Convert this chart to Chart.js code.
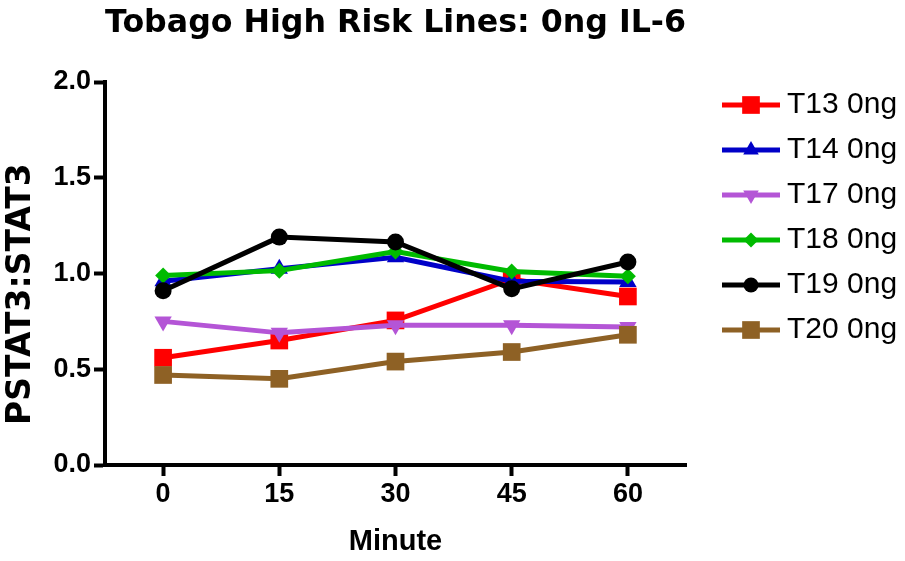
<!DOCTYPE html>
<html><head><meta charset="utf-8">
<script src="https://cdn.jsdelivr.net/npm/chart.js@4.4.0/dist/chart.umd.min.js"></script>
<style>html,body{margin:0;padding:0;background:#fff}#wrap{width:905px;height:561px}</style>
</head><body><div id="wrap"><canvas id="c" width="905" height="561"></canvas></div>
<script>
const chartTitle = 'Tobago High Risk Lines: 0ng IL-6';
const xTitle = 'Minute';
const yTitle = 'PSTAT3:STAT3';
const minutes = [0, 15, 30, 45, 60];
const seriesNames = ['T13 0ng', 'T14 0ng', 'T17 0ng', 'T18 0ng', 'T19 0ng', 'T20 0ng'];
const t13 = [0.56, 0.65, 0.755, 0.97, 0.88];
const t14 = [0.96, 1.025, 1.085, 0.96, 0.955];
const t17 = [0.75, 0.69, 0.73, 0.73, 0.72];
const t18 = [0.99, 1.015, 1.115, 1.01, 0.985];
const t19 = [0.91, 1.19, 1.165, 0.92, 1.06];
const t20 = [0.47, 0.45, 0.54, 0.59, 0.68];
const xTicks = [0, 15, 30, 45, 60];
const yTicks = [0, 0.5, 1.0, 1.5, 2.0];

const seriesValues = [t13, t14, t17, t18, t19, t20];
const styles = [
  {color: '#FF0000', pointStyle: 'rect', radius: 12.5, rotation: 0, lr: 12.5},
  {color: '#0000C8', pointStyle: 'triangle', radius: 10, rotation: 0, lr: 9},
  {color: '#B455D6', pointStyle: 'triangle', radius: 10, rotation: 180, lr: 9},
  {color: '#00BB00', pointStyle: 'rectRot', radius: 8, rotation: 0, lr: 7.5},
  {color: '#000000', pointStyle: 'circle', radius: 8.5, rotation: 0, lr: 7.5},
  {color: '#8E6125', pointStyle: 'rect', radius: 12.5, rotation: 0, lr: 12.5}
];

function marker(g, st, x, y) {
  g.fillStyle = st.color;
  g.beginPath();
  const r = st.lr;
  if (st.pointStyle === 'rect') {
    const s = r * Math.SQRT1_2;
    g.rect(x - s, y - s, 2 * s, 2 * s);
  } else if (st.pointStyle === 'triangle') {
    const base = st.rotation ? Math.PI / 2 : -Math.PI / 2;
    for (let k = 0; k < 3; k++) {
      const a = base + k * 2 * Math.PI / 3;
      const px = x + r * Math.cos(a), py = y + r * Math.sin(a);
      if (k === 0) g.moveTo(px, py); else g.lineTo(px, py);
    }
    g.closePath();
  } else if (st.pointStyle === 'rectRot') {
    g.moveTo(x, y - r); g.lineTo(x + r, y); g.lineTo(x, y + r); g.lineTo(x - r, y); g.closePath();
  } else {
    g.arc(x, y, r, 0, Math.PI * 2);
  }
  g.fill();
}
function legendIcon(st) {
  const cv = document.createElement('canvas');
  cv.width = 87; cv.height = 28;
  const g = cv.getContext('2d');
  g.strokeStyle = st.color; g.lineWidth = 5;
  g.beginPath(); g.moveTo(29, 14); g.lineTo(87, 14); g.stroke();
  marker(g, st, 58, 14);
  return cv;
}
const icons = styles.map(legendIcon);

const datasets = seriesValues.map((vals, i) => ({
  label: seriesNames[i],
  data: minutes.map((m, j) => ({x: m, y: vals[j]})),
  borderColor: styles[i].color,
  backgroundColor: styles[i].color,
  borderWidth: 5,
  pointStyle: styles[i].pointStyle,
  pointRadius: styles[i].radius,
  pointHoverRadius: styles[i].radius,
  pointRotation: styles[i].rotation,
  pointBorderWidth: 0,
  tension: 0,
  clip: false,
  order: seriesValues.length - i
}));

const tickFont = {family: 'Liberation Sans', size: 27, weight: 'bold'};
new Chart(document.getElementById('c'), {
  type: 'line',
  data: {datasets},
  options: {
    responsive: false, animation: false, devicePixelRatio: 1,
    layout: {padding: 0},
    plugins: {
      title: {display: true, text: chartTitle, fullSize: false, color: '#000',
        font: {family: 'DejaVu Sans', size: 32, weight: 'bold'}, padding: {top: 4.5, bottom: 39.1}},
      legend: {position: 'right', align: 'start', maxWidth: 219,
        title: {display: true, text: ' ', font: {size: 10}, padding: {top: 63, bottom: 0}},
        labels: {usePointStyle: true, pointStyleWidth: 71, padding: 15, color: '#000',
          font: {family: 'Liberation Sans', size: 30},
          generateLabels: (chart) => chart.data.datasets.map((d, i) => ({
            text: d.label, fillStyle: d.borderColor, strokeStyle: d.borderColor, fontColor: '#000',
            lineWidth: 0, hidden: false, pointStyle: icons[i], datasetIndex: i
          }))}},
      tooltip: {enabled: false}
    },
    scales: {
      x: {type: 'linear', min: -7.5, max: 67.5,
        afterBuildTicks: (a) => { a.ticks = xTicks.map(v => ({value: v})); },
        afterFit: (s) => { s.height = 96; },
        grid: {display: true, drawOnChartArea: false, drawTicks: true, tickLength: 11, tickWidth: 4, tickColor: '#000', color: '#000'},
        border: {display: true, color: '#000', width: 4},
        ticks: {color: '#000', padding: 2, font: tickFont, maxRotation: 0, autoSkip: false},
        title: {display: true, text: xTitle, color: '#000', font: {family: 'Liberation Sans', size: 29, weight: 'bold'}, padding: {top: 0, bottom: 2}}
      },
      y: {type: 'linear', min: 0, max: 2,
        afterBuildTicks: (a) => { a.ticks = yTicks.map(v => ({value: v})); },
        afterFit: (s) => { s.width = 105; },
        grid: {display: true, drawOnChartArea: false, drawTicks: true, tickLength: 11, tickWidth: 4, tickColor: '#000', color: '#000'},
        border: {display: true, color: '#000', width: 4},
        ticks: {color: '#000', padding: 3, font: tickFont, callback: (v) => Number(v).toFixed(1)},
        title: {display: true, text: yTitle + '   \u2009', color: '#000', font: {family: 'DejaVu Sans', size: 33, weight: 'bold'}, padding: {top: 1.7, bottom: 0}}
      }
    }
  }
});
</script></body></html>
